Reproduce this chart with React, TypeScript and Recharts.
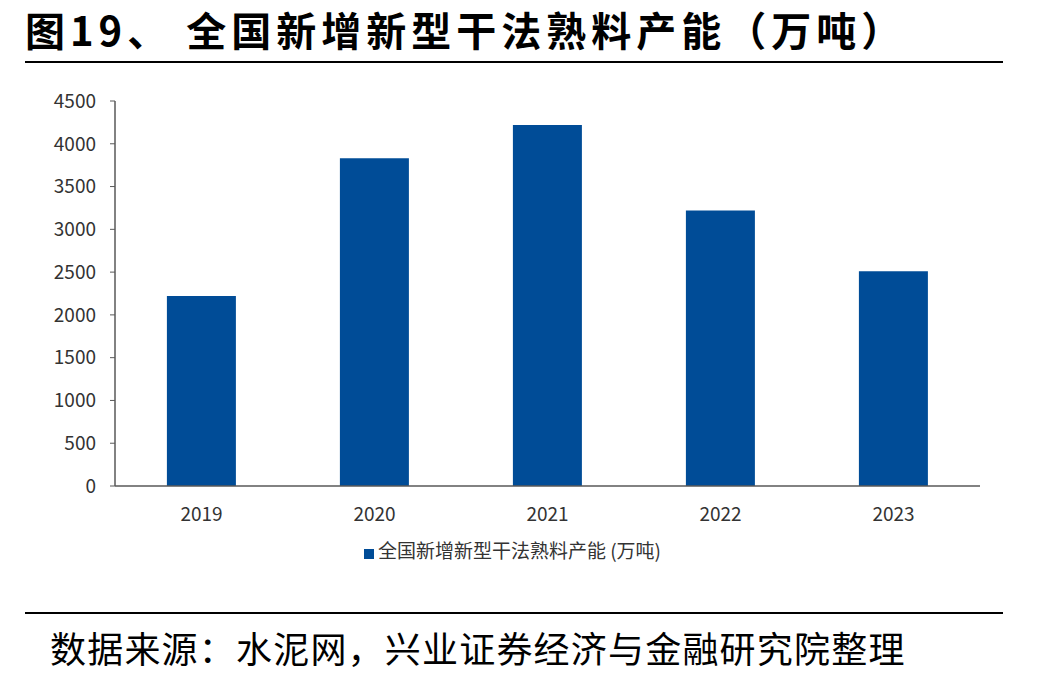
import { BarChart, Bar, XAxis, YAxis, Legend } from 'recharts'

// 全国新增新型干法熟料产能，单位：万吨
const years = ['2019', '2020', '2021', '2022', '2023']
const capacity = [2220, 3830, 4220, 3220, 2510]
const yTicks = [0, 500, 1000, 1500, 2000, 2500, 3000, 3500, 4000, 4500]

const seriesName = '全国新增新型干法熟料产能 (万吨)'

const chartData = years.map((year, i) => ({ year, value: capacity[i] }))

const cjk = '"Noto Sans CJK SC", "Noto Sans", sans-serif'
const tickStyle = { fill: '#333333', fontSize: 19, fontFamily: cjk }

export default function App() {
  return (
    <div style={{ position: 'absolute', left: 0, top: 0, width: 1049, height: 680, background: '#fff' }}>
      <div
        style={{
          position: 'absolute',
          left: 25,
          top: 4,
          fontFamily: cjk,
          fontWeight: 700,
          fontSize: 40,
          lineHeight: '50px',
          letterSpacing: 5,
          color: '#000',
          whiteSpace: 'pre',
        }}
      >
        {'图19、 全国新增新型干法熟料产能（万吨）'}
      </div>
      <div style={{ position: 'absolute', left: 25, top: 61, width: 978, height: 2, background: '#000' }} />

      <BarChart
        width={1049}
        height={569}
        data={chartData}
        margin={{ top: 101, right: 69, bottom: 6, left: 55 }}
        barCategoryGap="30%"
      >
        <XAxis
          dataKey="year"
          tick={tickStyle}
          tickLine={false}
          axisLine={{ stroke: '#595959', strokeWidth: 1.5 }}
          tickMargin={16}
          height={50}
        />
        <YAxis
          width={60}
          domain={[0, 4500]}
          ticks={yTicks}
          tick={tickStyle}
          tickSize={5}
          tickMargin={14}
          tickLine={{ stroke: '#595959' }}
          axisLine={{ stroke: '#595959', strokeWidth: 1.5 }}
          interval={0}
        />
        <Legend
          verticalAlign="bottom"
          iconType="square"
          iconSize={10}
          formatter={(v: string) => <span style={{ color: '#333333', fontSize: 19, fontFamily: cjk }}>{v}</span>}
        />
        <Bar dataKey="value" name={seriesName} fill="#004C97" isAnimationActive={false} />
      </BarChart>

      <div style={{ position: 'absolute', left: 25, top: 612, width: 978, height: 2, background: '#000' }} />
      <div
        style={{
          position: 'absolute',
          left: 50,
          top: 624,
          fontFamily: cjk,
          fontSize: 36,
          lineHeight: '46px',
          letterSpacing: 1.2,
          color: '#000',
          whiteSpace: 'nowrap',
        }}
      >
        数据来源：水泥网，兴业证券经济与金融研究院整理
      </div>
    </div>
  )
}
